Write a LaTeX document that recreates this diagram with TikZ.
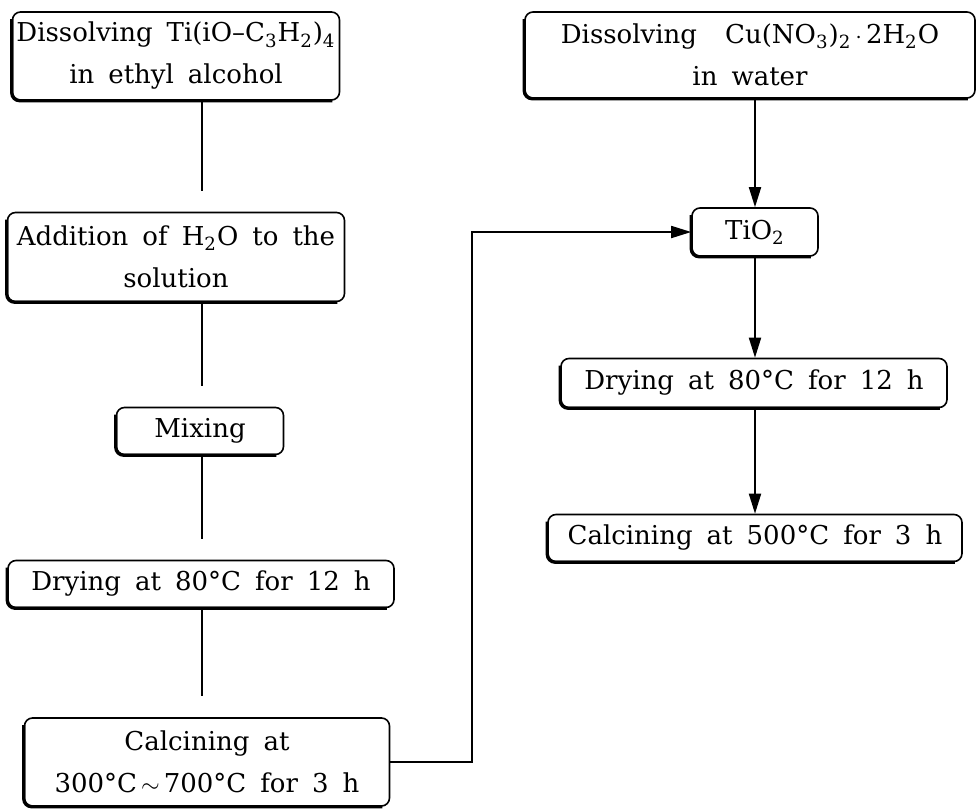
\documentclass[tikz,border=0pt]{standalone}
\usepackage{fontspec}
\setmainfont{DejaVu Serif}[WordSpace=1.7]
\usepackage{tikz}
\usetikzlibrary{arrows.meta}
\newcommand{\degC}{°C}
\begin{document}
\begin{tikzpicture}[x=0.5pt,y=-0.5pt,
    procbox/.style={draw,rounded corners=4pt,line width=0.8pt,align=center,inner sep=0pt,
      font=\fontsize{13}{21}\selectfont},
    link/.style={line width=0.9pt},
    flow/.style={line width=0.9pt,-{Triangle[length=10pt,width=6pt]}},
    boxedge/.style={line width=1.6pt,rounded corners=4pt}]
    \useasboundingbox (0,0) rectangle (976,810);
    \coordinate (spine) at (202,0);
    \coordinate (turn) at (472,0);
    \node[procbox,minimum width=163.5pt,minimum height=44pt] (dissTi) at (176,56)
        {Dissolving Ti(iO--C\textsubscript{3}H\textsubscript{2})\textsubscript{4}\\in ethyl alcohol};
    \node[procbox,minimum width=168.5pt,minimum height=44.5pt] (addWater) at (176,257)
        {Addition of H\textsubscript{2}O to the\\solution};
    \node[procbox,minimum width=83.5pt,minimum height=23.5pt] (mixing) at (200,431) {Mixing};
    \node[procbox,minimum width=193pt,minimum height=23.5pt] (dryLeft) at (201,584)
        {Drying at 80\degC{} for 12 h};
    \node[procbox,minimum width=182.5pt,minimum height=44pt] (calcLeft) at (207,762)
        {Calcining at\\300\degC{}$\,\sim\,$700\degC{} for 3 h};
    \node[procbox,minimum width=225pt,minimum height=43pt] (dissCu) at (750,55)
        {Dissolving \ Cu(NO\textsubscript{3})\textsubscript{2}$\,\cdot\,$2H\textsubscript{2}O\\in water};
    \node[procbox,minimum width=63pt,minimum height=24pt] (tio) at (755,232) {TiO\textsubscript{2}};
    \node[procbox,minimum width=193pt,minimum height=24.5pt] (dryRight) at (754,383)
        {Drying at 80\degC{} for 12 h};
    \node[procbox,minimum width=207pt,minimum height=23.5pt] (calcRight) at (755,538)
        {Calcining at 500\degC{} for 3 h};
    \foreach \n in {dissTi,addWater,mixing,dryLeft,calcLeft,dissCu,tio,dryRight,calcRight}
        \draw[boxedge] ([yshift=-4pt]\n.north west) -- (\n.south west) -- ([xshift=-4pt]\n.south east);
    \draw[link,shorten >=10.5pt] (dissTi.south -| spine) -- (addWater.north -| spine);
    \draw[link,shorten >=10.5pt] (addWater.south -| spine) -- (mixing.north -| spine);
    \draw[link,shorten >=10.5pt] (mixing.south -| spine) -- (dryLeft.north -| spine);
    \draw[link,shorten >=10.5pt] (dryLeft.south -| spine) -- (calcLeft.north -| spine);
    \draw[flow] (dissCu.south -| tio) -- (tio.north);
    \draw[flow] (tio.south) -- (dryRight.north -| tio);
    \draw[flow] (dryRight.south -| tio) -- (calcRight.north -| tio);
    \draw[flow] (calcLeft.east) -| (turn |- tio.west) -- (tio.west);
\end{tikzpicture}
\end{document}
